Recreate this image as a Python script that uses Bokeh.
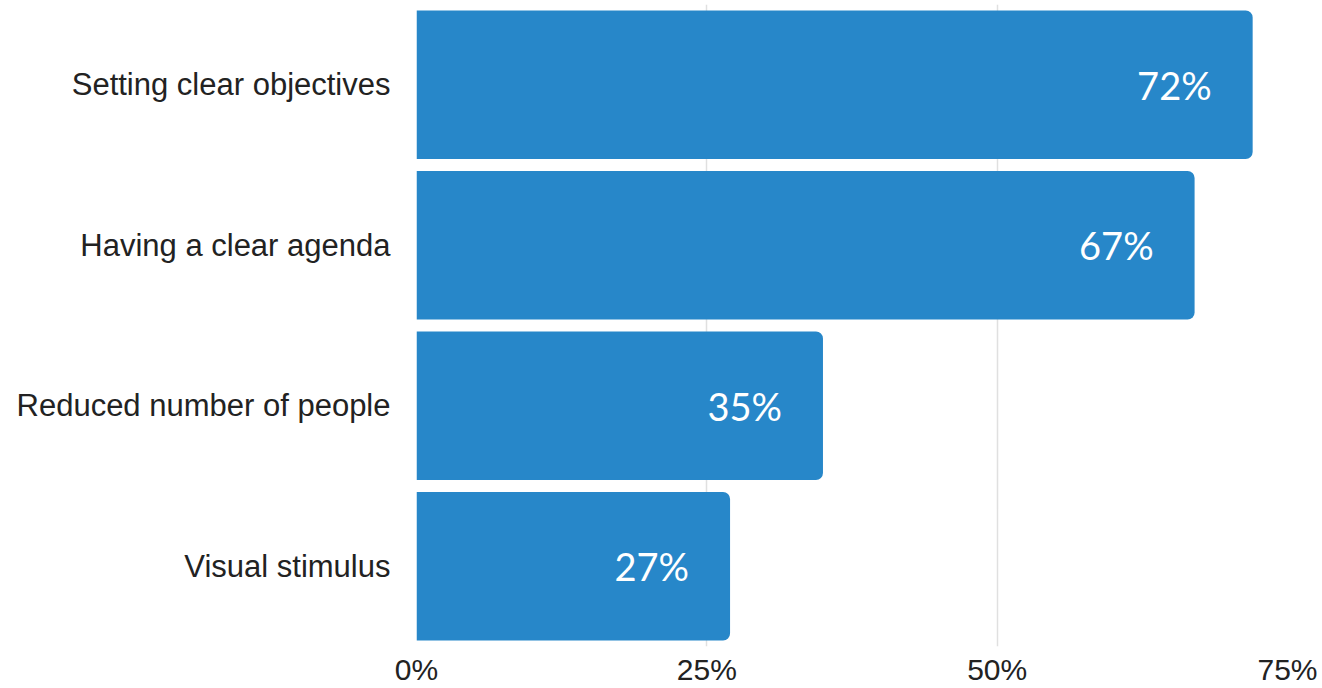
from bokeh.plotting import figure
from bokeh.models import ColumnDataSource, FactorRange, Range1d, FixedTicker, LabelSet
from bokeh.embed import file_html
from bokeh.resources import INLINE
from bokeh.core.properties import value

categories = ["Setting clear objectives", "Having a clear agenda", "Reduced number of people", "Visual stimulus"]
values = [72, 67, 35, 27]
value_labels = ["72%", "67%", "35%", "27%"]
tick_values = [0, 25, 50, 75]
tick_labels = ["0%", "25%", "50%", "75%"]

source = ColumnDataSource(data=dict(cat=categories, val=values, lab=value_labels))

p = figure(
    width=1322, height=688,
    y_range=FactorRange(*list(reversed(categories))),
    x_range=Range1d(0, 75),
    output_backend="svg", toolbar_location=None,
    min_border_left=416, min_border_right=35, min_border_top=4, min_border_bottom=40,
)
p.outline_line_color = None
p.background_fill_color = "white"
p.border_fill_color = "white"

p.hbar(y="cat", right="val", left=0, height=0.925, source=source,
       fill_color="#2787c9", line_color=None, border_radius=(0, 7, 7, 0))

labels = LabelSet(x="val", y="cat", text="lab", source=source,
                  x_offset=-41, text_align="right", text_baseline="middle",
                  text_color="white", text_font=value("Lato"), text_font_size="38px")
p.add_layout(labels)

p.xaxis.ticker = FixedTicker(ticks=tick_values)
p.xaxis.major_label_overrides = {t: l for t, l in zip(tick_values, tick_labels)}
p.xaxis.axis_line_color = None
p.xaxis.major_tick_line_color = None
p.xaxis.minor_tick_line_color = None
p.xaxis.major_label_text_font = "Liberation Sans"
p.xaxis.major_label_text_font_size = "30px"
p.xaxis.major_label_text_color = "#222222"
p.xaxis.major_label_standoff = 0

p.yaxis.axis_line_color = None
p.yaxis.major_tick_line_color = None
p.yaxis.minor_tick_line_color = None
p.yaxis.major_label_text_font = "Liberation Sans"
p.yaxis.major_label_text_font_size = "31px"
p.yaxis.major_label_text_color = "#222222"
p.yaxis.major_label_standoff = 20

p.ygrid.grid_line_color = None
p.xgrid.grid_line_color = "#e0e0e0"
p.xgrid.grid_line_width = 1.5

open("out.html", "w").write(file_html(p, INLINE))
